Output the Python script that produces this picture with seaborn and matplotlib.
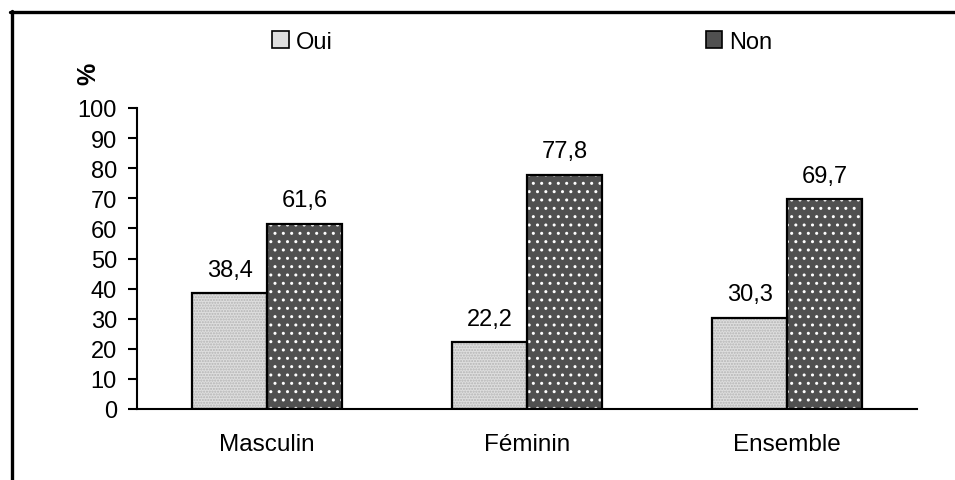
import matplotlib
matplotlib.use("Agg")
import matplotlib.pyplot as plt
from matplotlib.patches import Rectangle, Patch
from matplotlib.lines import Line2D
import seaborn as sns
import pandas as pd

groupes = ["Masculin", "Féminin", "Ensemble"]
oui = [38.4, 22.2, 30.3]
non = [61.6, 77.8, 69.7]
reponses = ["Oui", "Non"]
yticks = [0, 10, 20, 30, 40, 50, 60, 70, 80, 90, 100]

df = pd.DataFrame({
    "groupe": groupes * 2,
    "reponse": ["Oui"] * len(oui) + ["Non"] * len(non),
    "valeur": oui + non,
})

sns.set_style("white")
plt.rcParams["font.family"] = ["Liberation Sans", "DejaVu Sans"]
plt.rcParams["hatch.linewidth"] = 1.0
for k in ["text.color", "axes.labelcolor", "xtick.color", "ytick.color"]:
    plt.rcParams[k] = "black"

fig = plt.figure(figsize=(9.55, 4.81), dpi=100)
ax = fig.add_axes([137 / 955, 1 - 410 / 481, 780 / 955, 301 / 481])

couleurs = {"Oui": "#dedede", "Non": "#505050"}
hachures = {"Oui": ("......", "#b4b4b4"), "Non": ("..", "white")}

sns.barplot(data=df, x="groupe", y="valeur", hue="reponse", hue_order=reponses,
            order=groupes, palette=couleurs, width=0.576, legend=False,
            linewidth=0, ax=ax)

# motif + contour noir par-dessus
for rep, cont in zip(reponses, ax.containers):
    h, hc = hachures[rep]
    for p in cont:
        p.set_hatch(h)
        p.set_edgecolor(hc)
        p.set_linewidth(0)
        ax.add_patch(Rectangle(p.get_xy(), p.get_width(), p.get_height(),
                               fill=False, edgecolor="black", linewidth=1.6, zorder=3))
    ax.bar_label(cont, labels=[f"{v:.1f}".replace(".", ",") for v in cont.datavalues],
                 padding=9, fontsize=17)

ax.set_ylim(0, 100)
ax.set_xlim(-0.5, 2.5)
ax.set_yticks(yticks)
ax.set_xlabel("")
ax.set_ylabel("%", fontsize=18, rotation=90, fontweight="bold")
ax.yaxis.set_label_coords(-0.047, 1.116)

ax.set_xticks([-0.5, 0.5, 1.5, 2.5], minor=True)
ax.tick_params(axis="x", which="major", length=0, pad=17, labelsize=17.5)
ax.tick_params(axis="x", which="minor", length=6, width=1.5, color="black", direction="out")
ax.tick_params(axis="y", length=6.5, width=1.5, pad=8, labelsize=17, color="black", direction="out", left=True)

sns.despine(ax=ax)
for s in ["left", "bottom"]:
    ax.spines[s].set_color("black")
    ax.spines[s].set_linewidth(1.5)

handles = [Patch(facecolor=couleurs[r], edgecolor="black", linewidth=1.2) for r in reponses]
fig.legend(handles, reponses, loc="center left", bbox_to_anchor=(272 / 955, 1 - 43 / 481),
           ncol=2, frameon=False, fontsize=17, handlelength=0.7, handleheight=0.7,
           handletextpad=0.3, columnspacing=15.8, borderaxespad=0, borderpad=0)

# cadre
fig.add_artist(Line2D([10 / 955, 1], [1 - 13 / 481, 1 - 13 / 481], color="black", linewidth=2.4))
fig.add_artist(Line2D([11.5 / 955, 11.5 / 955], [0, 1 - 12 / 481], color="black", linewidth=2.4))

fig.savefig("out.png", dpi=100)
